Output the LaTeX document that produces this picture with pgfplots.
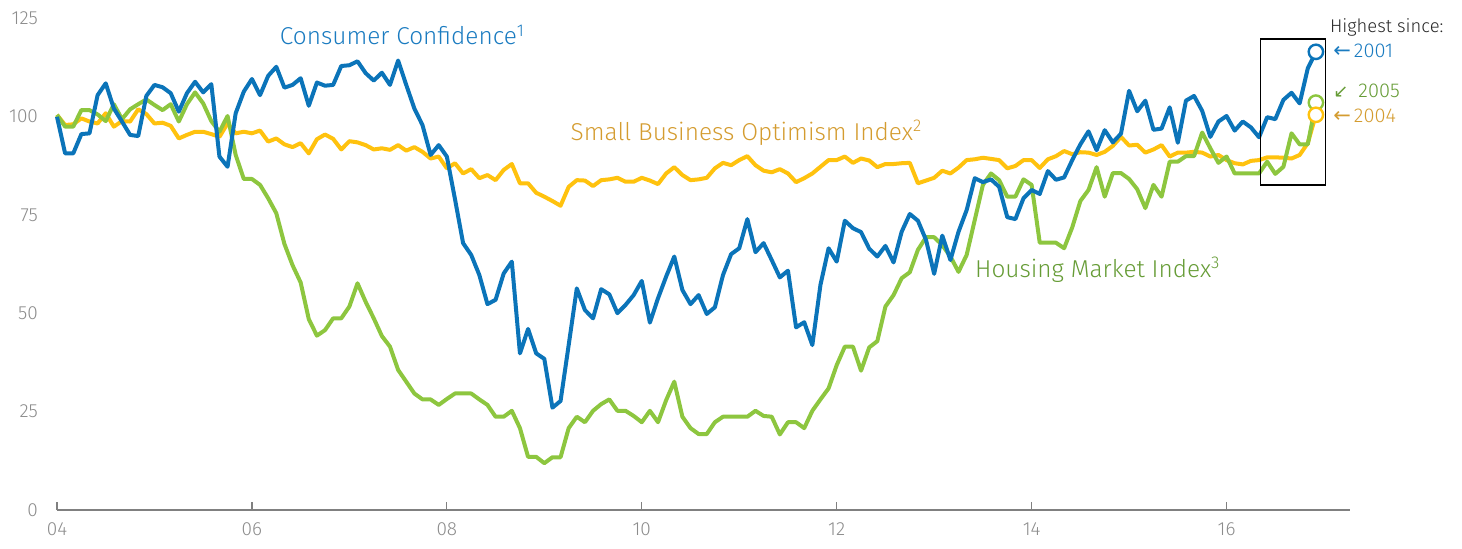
\documentclass[border=0pt]{standalone}
\usepackage{fontspec}
\setmainfont{Fira Sans}[UprightFont=* Light, BoldFont=* Regular]
\newfontfamily\symf{DejaVu Sans}
\usepackage{pgfplots}
\usepackage{pgfplotstable}
\pgfplotsset{compat=1.18}
\definecolor{cblue}{HTML}{0B74B9}
\definecolor{cgreen}{HTML}{8DC63F}
\definecolor{cyellow}{HTML}{FFC20E}
\definecolor{tblue}{HTML}{1A7BC0}
\definecolor{tgreen}{HTML}{669C36}
\definecolor{tyellow}{HTML}{D49C30}
\definecolor{axgray}{HTML}{808080}
\definecolor{labgray}{HTML}{8C8C8C}

\pgfplotstableread{
i cc sb hm
0 99.9 100.4 100.4
1 90.6 97.8 97.4
2 90.6 98.0 97.4
3 95.5 99.5 101.6
4 95.7 98.7 101.6
5 105.4 98.2 100.5
6 108.4 100.8 98.8
7 102.0 97.4 103.1
8 98.7 98.8 99.3
9 95.3 98.7 101.8
10 95.0 101.8 103.1
11 105.2 100.6 104.3
12 108.0 98.2 102.9
13 107.4 98.4 101.6
14 105.9 97.6 103.1
15 101.2 94.4 98.7
16 105.9 95.3 103.1
17 108.8 96.1 106.1
18 106.1 96.1 103.3
19 108.2 95.5 98.8
20 89.8 94.8 96.1
21 87.2 98.2 100.1
22 100.8 95.7 90.2
23 106.3 96.1 84.1
24 109.5 95.7 84.1
25 105.4 96.4 82.6
26 110.3 93.6 79.2
27 112.6 94.4 75.4
28 107.3 92.9 67.6
29 108.0 92.2 62.2
30 109.7 93.2 57.8
31 102.7 90.6 48.5
32 108.6 94.2 44.3
33 107.8 95.4 45.7
34 108.0 94.3 48.7
35 112.8 91.6 48.7
36 113.0 93.7 51.7
37 114.0 93.4 57.6
38 111.0 92.7 52.9
39 109.1 91.6 48.7
40 111.1 91.9 44.2
41 108.0 91.5 41.5
42 114.2 92.7 35.6
43 108.0 91.3 32.6
44 102.0 92.2 29.6
45 97.8 91.0 28.1
46 90.2 89.3 28.1
47 92.7 89.8 26.7
48 89.8 86.8 28.2
49 79.0 88.1 29.6
50 67.8 85.5 29.6
51 64.8 86.6 29.6
52 59.7 84.3 28.1
53 52.3 85.1 26.7
54 53.4 83.8 23.7
55 60.1 86.4 23.7
56 63.1 87.9 25.2
57 39.8 83.0 20.8
58 46.0 83.0 13.5
59 39.8 80.6 13.5
60 38.4 79.6 11.9
61 26.0 78.5 13.4
62 27.7 77.3 13.4
63 41.9 82.1 20.8
64 56.3 83.8 23.7
65 50.8 83.7 22.3
66 48.7 82.3 25.2
67 56.1 83.8 26.9
68 54.8 84.0 28.1
69 50.0 84.4 25.2
70 52.1 83.4 25.2
71 54.6 83.4 23.9
72 58.2 84.4 22.3
73 47.6 83.7 25.2
74 53.8 82.8 22.3
75 59.3 85.5 27.9
76 64.4 87.1 32.6
77 55.9 85.1 23.7
78 52.3 83.8 20.8
79 54.6 84.0 19.3
80 49.8 84.4 19.3
81 51.5 86.8 22.3
82 59.7 88.2 23.7
83 65.0 87.6 23.7
84 66.5 88.9 23.7
85 73.9 89.9 23.7
86 65.5 87.6 25.2
87 67.8 86.2 23.9
88 63.5 85.8 23.7
89 59.1 86.6 19.2
90 60.8 85.5 22.3
91 46.4 83.3 22.3
92 47.7 84.3 20.8
93 41.9 85.5 25.2
94 57.2 87.2 28.1
95 66.5 88.9 30.9
96 63.1 88.9 36.8
97 73.5 89.8 41.5
98 71.6 88.2 41.5
99 70.6 89.3 35.4
100 66.4 88.8 41.3
101 64.4 87.1 42.9
102 67.1 87.9 51.7
103 62.9 87.9 54.6
104 70.7 88.1 58.9
105 75.2 88.2 60.4
106 73.5 83.0 66.1
107 68.6 83.7 69.3
108 60.0 84.4 69.3
109 69.7 86.2 67.3
110 63.5 85.5 64.4
111 70.7 87.0 60.5
112 76.2 88.9 64.8
113 84.3 89.1 73.7
114 83.3 89.5 82.6
115 84.0 89.2 85.5
116 82.1 88.9 83.8
117 74.4 86.8 79.6
118 73.9 87.4 79.6
119 79.2 88.9 84.0
120 81.3 88.9 82.6
121 80.3 86.9 67.9
122 86.1 89.1 67.9
123 83.9 89.9 67.9
124 84.5 91.2 66.5
125 88.9 90.4 71.8
126 92.9 90.9 78.5
127 96.2 90.8 81.3
128 91.4 90.2 87.1
129 96.5 91.0 79.6
130 93.4 92.5 85.6
131 95.6 94.8 85.6
132 106.5 92.6 84.1
133 101.3 92.8 81.5
134 104.0 90.8 76.7
135 96.6 91.6 82.6
136 96.9 92.7 79.6
137 102.3 89.8 88.5
138 93.3 90.8 88.5
139 104.0 90.8 89.9
140 105.2 91.0 89.9
141 101.4 90.8 95.9
142 94.8 89.8 91.9
143 98.7 90.2 88.2
144 100.1 88.9 89.8
145 96.4 88.1 85.5
146 98.7 87.8 85.5
147 97.2 88.7 85.5
148 94.7 88.9 85.5
149 99.8 89.6 88.5
150 99.3 89.6 85.4
151 104.2 89.5 87.2
152 106.0 89.3 95.7
153 103.3 90.2 92.9
154 112.2 93.2 92.9
155 116.4 100.4 103.5
}\datatable

\begin{document}
\begin{tikzpicture}
\begin{axis}[
  name=ax,
  scale only axis,
  width=646.5pt, height=246pt,
  xmin=0, xmax=159.2,
  ymin=0, ymax=125,
  clip=false,
  axis x line*=bottom,
  axis y line*=left,
  y axis line style={draw=none},
  x axis line style={draw=axgray, line width=0.8pt},
  xtick={0,24,48,72,96,120,144},
  xticklabels={04,06,08,10,12,14,16},
  ytick={0,25,50,75,100,125},
  xtick align=inside,
  major tick length=4pt,
  xtick style={draw=axgray, line width=0.6pt},
  ytick style={draw=none},
  tick label style={font=\fontsize{9.5}{10}\selectfont, text=labgray},
  xticklabel style={yshift=-3pt},
  yticklabel style={xshift=-6pt},
  /pgf/number format/assume math mode=true,
]
\addplot[cyellow, line width=2pt, line join=round] table[x=i, y=sb] {\datatable};
\addplot[cgreen, line width=2pt, line join=round] table[x=i, y=hm] {\datatable};
\addplot[cblue, line width=2pt, line join=round] table[x=i, y=cc] {\datatable};

\draw[black, line width=0.8pt] (axis cs:148.2,82.6) rectangle (axis cs:156.2,119.6);

\addplot[only marks, mark=*, mark size=3.6pt, mark options={draw=cblue, fill=white, line width=1.2pt}] coordinates {(155,116.4)};
\addplot[only marks, mark=*, mark size=3.6pt, mark options={draw=cgreen, fill=white, line width=1.2pt}] coordinates {(155,103.5)};
\addplot[only marks, mark=*, mark size=3.6pt, mark options={draw=cyellow, fill=white, line width=1.2pt}] coordinates {(155,100.4)};

\node[anchor=west, text=tblue, font=\fontsize{12.2}{13}\selectfont, inner sep=0pt] at (axis cs:27.4,120.7) {Consumer Confidence\textsuperscript{1}};
\node[anchor=west, text=tyellow, font=\fontsize{12.2}{13}\selectfont, inner sep=0pt] at (axis cs:63.2,95.8) {Small Business Optimism Index\textsuperscript{2}};
\node[anchor=west, text=tgreen, font=\fontsize{12.2}{13}\selectfont, inner sep=0pt] at (axis cs:113.0,61.0) {Housing Market Index\textsuperscript{3}};

\node[anchor=west, text=black!85, font=\fontsize{9.2}{10}\selectfont, inner sep=0pt] at (axis cs:156.7,122.7) {Highest since:};
\node[anchor=west, text=tblue, font=\fontsize{10}{12}\selectfont, inner sep=0pt] at (axis cs:157.1,116.6) {{\symf\fontsize{10.5}{12}\selectfont ←}\kern1.5pt2001};
\node[anchor=west, text=tgreen, font=\fontsize{10}{12}\selectfont, inner sep=0pt] at (axis cs:157.1,106.5) {{\symf\fontsize{9}{12}\selectfont ↙}\kern5pt2005};
\node[anchor=west, text=tyellow, font=\fontsize{10}{12}\selectfont, inner sep=0pt] at (axis cs:157.1,100.1) {{\symf\fontsize{10.5}{12}\selectfont ←}\kern1.5pt2004};
\end{axis}
\pgfresetboundingbox
\path ([shift={(-28.5pt,-19pt)}]ax.south west) rectangle ([shift={(56pt,9pt)}]ax.north east);
\end{tikzpicture}
\end{document}
